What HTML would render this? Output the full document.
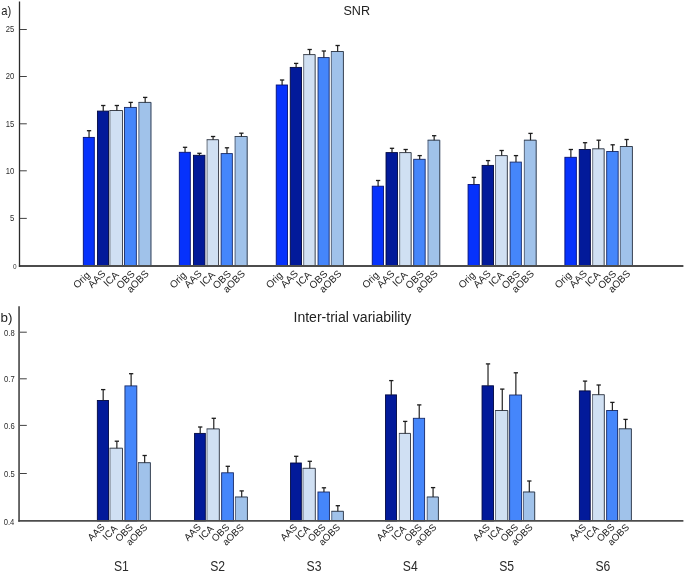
<!DOCTYPE html>
<html><head><meta charset="utf-8"><title>chart</title>
<style>
html,body{margin:0;padding:0;background:#fff;}
body{width:685px;height:573px;overflow:hidden;font-family:"Liberation Sans",sans-serif;}
svg{display:block;will-change:transform;font-family:"Liberation Sans",sans-serif;}
</style></head><body>
<svg width="685" height="573" viewBox="0 0 685 573">
<rect width="685" height="573" fill="#fff"/>
<rect x="83.31" y="137.40" width="11.00" height="128.60" fill="#0632fc" stroke="#041078" stroke-width="0.9"/><path d="M89.05 137.40V130.70" stroke="#222" stroke-width="1.2" fill="none"/><path d="M86.90 130.70H91.20" stroke="#1c1c1c" stroke-width="1.3" fill="none"/>
<text x="90.70" y="275.70" font-size="10" fill="#1c1c1c" text-anchor="end" transform="rotate(-45 90.70 275.70)">Orig</text>
<rect x="97.44" y="111.10" width="11.11" height="154.90" fill="#021a9a" stroke="#010842" stroke-width="0.9"/><path d="M103.24 111.10V105.50" stroke="#222" stroke-width="1.2" fill="none"/><path d="M101.09 105.50H105.39" stroke="#1c1c1c" stroke-width="1.3" fill="none"/>
<text x="106.20" y="274.30" font-size="10" fill="#1c1c1c" text-anchor="end" transform="rotate(-45 106.20 274.30)">AAS</text>
<rect x="109.53" y="110.10" width="13.43" height="155.90" fill="#d0e0f3"/><path d="M109.93 266.00V110.50" stroke="#666c75" stroke-width="0.9" fill="none"/><path d="M109.53 110.50H122.56V266.00" stroke="#2e323c" stroke-width="0.9" fill="none"/><path d="M116.85 110.50V105.50" stroke="#222" stroke-width="1.2" fill="none"/><path d="M114.70 105.50H119.00" stroke="#1c1c1c" stroke-width="1.3" fill="none"/>
<text x="119.40" y="275.50" font-size="10" fill="#1c1c1c" text-anchor="end" transform="rotate(-45 119.40 275.50)">ICA</text>
<rect x="124.53" y="107.40" width="11.81" height="158.60" fill="#4586fb" stroke="#172a68" stroke-width="0.9"/><path d="M130.69 107.40V102.40" stroke="#222" stroke-width="1.2" fill="none"/><path d="M128.54 102.40H132.84" stroke="#1c1c1c" stroke-width="1.3" fill="none"/>
<text x="135.50" y="274.50" font-size="10" fill="#1c1c1c" text-anchor="end" transform="rotate(-45 135.50 274.50)">OBS</text>
<rect x="138.50" y="102.00" width="12.85" height="164.00" fill="#a0c2ea"/><path d="M138.90 266.00V102.40" stroke="#566074" stroke-width="0.9" fill="none"/><path d="M138.50 102.40H150.94V266.00" stroke="#2e3442" stroke-width="0.9" fill="none"/><path d="M145.17 102.40V97.40" stroke="#222" stroke-width="1.2" fill="none"/><path d="M143.02 97.40H147.32" stroke="#1c1c1c" stroke-width="1.3" fill="none"/>
<text x="149.50" y="274.30" font-size="10" fill="#1c1c1c" text-anchor="end" transform="rotate(-45 149.50 274.30)">aOBS</text>
<rect x="179.31" y="152.30" width="11.00" height="113.70" fill="#0632fc" stroke="#041078" stroke-width="0.9"/><path d="M185.05 152.30V147.30" stroke="#222" stroke-width="1.2" fill="none"/><path d="M182.90 147.30H187.20" stroke="#1c1c1c" stroke-width="1.3" fill="none"/>
<text x="187.01" y="275.70" font-size="10" fill="#1c1c1c" text-anchor="end" transform="rotate(-45 187.01 275.70)">Orig</text>
<rect x="193.44" y="155.30" width="11.46" height="110.70" fill="#021a9a" stroke="#010842" stroke-width="0.9"/><path d="M199.42 155.30V153.30" stroke="#222" stroke-width="1.2" fill="none"/><path d="M197.27 153.30H201.57" stroke="#1c1c1c" stroke-width="1.3" fill="none"/>
<text x="202.51" y="274.30" font-size="10" fill="#1c1c1c" text-anchor="end" transform="rotate(-45 202.51 274.30)">AAS</text>
<rect x="206.70" y="139.30" width="12.26" height="126.70" fill="#d0e0f3"/><path d="M207.10 266.00V139.70" stroke="#666c75" stroke-width="0.9" fill="none"/><path d="M206.70 139.70H218.56V266.00" stroke="#2e323c" stroke-width="0.9" fill="none"/><path d="M213.08 139.70V136.50" stroke="#222" stroke-width="1.2" fill="none"/><path d="M210.93 136.50H215.23" stroke="#1c1c1c" stroke-width="1.3" fill="none"/>
<text x="215.71" y="275.50" font-size="10" fill="#1c1c1c" text-anchor="end" transform="rotate(-45 215.71 275.50)">ICA</text>
<rect x="221.12" y="153.60" width="11.23" height="112.40" fill="#4586fb" stroke="#172a68" stroke-width="0.9"/><path d="M226.98 153.60V147.80" stroke="#222" stroke-width="1.2" fill="none"/><path d="M224.83 147.80H229.13" stroke="#1c1c1c" stroke-width="1.3" fill="none"/>
<text x="231.81" y="274.50" font-size="10" fill="#1c1c1c" text-anchor="end" transform="rotate(-45 231.81 274.50)">OBS</text>
<rect x="234.73" y="136.10" width="12.85" height="129.90" fill="#a0c2ea"/><path d="M235.13 266.00V136.50" stroke="#566074" stroke-width="0.9" fill="none"/><path d="M234.73 136.50H247.18V266.00" stroke="#2e3442" stroke-width="0.9" fill="none"/><path d="M241.40 136.50V133.20" stroke="#222" stroke-width="1.2" fill="none"/><path d="M239.25 133.20H243.55" stroke="#1c1c1c" stroke-width="1.3" fill="none"/>
<text x="245.81" y="274.30" font-size="10" fill="#1c1c1c" text-anchor="end" transform="rotate(-45 245.81 274.30)">aOBS</text>
<rect x="276.24" y="85.00" width="11.23" height="181.00" fill="#0632fc" stroke="#041078" stroke-width="0.9"/><path d="M282.10 85.00V80.00" stroke="#222" stroke-width="1.2" fill="none"/><path d="M279.95 80.00H284.25" stroke="#1c1c1c" stroke-width="1.3" fill="none"/>
<text x="283.32" y="275.70" font-size="10" fill="#1c1c1c" text-anchor="end" transform="rotate(-45 283.32 275.70)">Orig</text>
<rect x="290.25" y="67.40" width="11.23" height="198.60" fill="#021a9a" stroke="#010842" stroke-width="0.9"/><path d="M296.12 67.40V63.40" stroke="#222" stroke-width="1.2" fill="none"/><path d="M293.97 63.40H298.27" stroke="#1c1c1c" stroke-width="1.3" fill="none"/>
<text x="298.82" y="274.30" font-size="10" fill="#1c1c1c" text-anchor="end" transform="rotate(-45 298.82 274.30)">AAS</text>
<rect x="303.28" y="54.20" width="12.26" height="211.80" fill="#d0e0f3"/><path d="M303.68 266.00V54.60" stroke="#666c75" stroke-width="0.9" fill="none"/><path d="M303.28 54.60H315.15V266.00" stroke="#2e323c" stroke-width="0.9" fill="none"/><path d="M309.67 54.60V49.50" stroke="#222" stroke-width="1.2" fill="none"/><path d="M307.52 49.50H311.82" stroke="#1c1c1c" stroke-width="1.3" fill="none"/>
<text x="312.02" y="275.50" font-size="10" fill="#1c1c1c" text-anchor="end" transform="rotate(-45 312.02 275.50)">ICA</text>
<rect x="318.05" y="57.60" width="11.11" height="208.40" fill="#4586fb" stroke="#172a68" stroke-width="0.9"/><path d="M323.86 57.60V51.00" stroke="#222" stroke-width="1.2" fill="none"/><path d="M321.71 51.00H326.01" stroke="#1c1c1c" stroke-width="1.3" fill="none"/>
<text x="328.12" y="274.50" font-size="10" fill="#1c1c1c" text-anchor="end" transform="rotate(-45 328.12 274.50)">OBS</text>
<rect x="330.96" y="51.10" width="12.85" height="214.90" fill="#a0c2ea"/><path d="M331.36 266.00V51.50" stroke="#566074" stroke-width="0.9" fill="none"/><path d="M330.96 51.50H343.41V266.00" stroke="#2e3442" stroke-width="0.9" fill="none"/><path d="M337.64 51.50V45.50" stroke="#222" stroke-width="1.2" fill="none"/><path d="M335.49 45.50H339.79" stroke="#1c1c1c" stroke-width="1.3" fill="none"/>
<text x="342.12" y="274.30" font-size="10" fill="#1c1c1c" text-anchor="end" transform="rotate(-45 342.12 274.30)">aOBS</text>
<rect x="372.24" y="186.20" width="11.23" height="79.80" fill="#0632fc" stroke="#041078" stroke-width="0.9"/><path d="M378.10 186.20V180.50" stroke="#222" stroke-width="1.2" fill="none"/><path d="M375.95 180.50H380.25" stroke="#1c1c1c" stroke-width="1.3" fill="none"/>
<text x="379.63" y="275.70" font-size="10" fill="#1c1c1c" text-anchor="end" transform="rotate(-45 379.63 275.70)">Orig</text>
<rect x="386.02" y="152.60" width="11.46" height="113.40" fill="#021a9a" stroke="#010842" stroke-width="0.9"/><path d="M392.00 152.60V148.30" stroke="#222" stroke-width="1.2" fill="none"/><path d="M389.85 148.30H394.15" stroke="#1c1c1c" stroke-width="1.3" fill="none"/>
<text x="395.13" y="274.30" font-size="10" fill="#1c1c1c" text-anchor="end" transform="rotate(-45 395.13 274.30)">AAS</text>
<rect x="399.28" y="152.20" width="12.26" height="113.80" fill="#d0e0f3"/><path d="M399.68 266.00V152.60" stroke="#666c75" stroke-width="0.9" fill="none"/><path d="M399.28 152.60H411.15V266.00" stroke="#2e323c" stroke-width="0.9" fill="none"/><path d="M405.67 152.60V149.50" stroke="#222" stroke-width="1.2" fill="none"/><path d="M403.52 149.50H407.82" stroke="#1c1c1c" stroke-width="1.3" fill="none"/>
<text x="408.33" y="275.50" font-size="10" fill="#1c1c1c" text-anchor="end" transform="rotate(-45 408.33 275.50)">ICA</text>
<rect x="413.70" y="159.30" width="11.46" height="106.70" fill="#4586fb" stroke="#172a68" stroke-width="0.9"/><path d="M419.68 159.30V155.60" stroke="#222" stroke-width="1.2" fill="none"/><path d="M417.53 155.60H421.83" stroke="#1c1c1c" stroke-width="1.3" fill="none"/>
<text x="424.43" y="274.50" font-size="10" fill="#1c1c1c" text-anchor="end" transform="rotate(-45 424.43 274.50)">OBS</text>
<rect x="427.66" y="139.80" width="12.50" height="126.20" fill="#a0c2ea"/><path d="M428.06 266.00V140.20" stroke="#566074" stroke-width="0.9" fill="none"/><path d="M427.66 140.20H439.76V266.00" stroke="#2e3442" stroke-width="0.9" fill="none"/><path d="M434.16 140.20V135.70" stroke="#222" stroke-width="1.2" fill="none"/><path d="M432.01 135.70H436.31" stroke="#1c1c1c" stroke-width="1.3" fill="none"/>
<text x="438.43" y="274.30" font-size="10" fill="#1c1c1c" text-anchor="end" transform="rotate(-45 438.43 274.30)">aOBS</text>
<rect x="468.07" y="184.50" width="11.23" height="81.50" fill="#0632fc" stroke="#041078" stroke-width="0.9"/><path d="M473.94 184.50V177.40" stroke="#222" stroke-width="1.2" fill="none"/><path d="M471.79 177.40H476.09" stroke="#1c1c1c" stroke-width="1.3" fill="none"/>
<text x="475.94" y="275.70" font-size="10" fill="#1c1c1c" text-anchor="end" transform="rotate(-45 475.94 275.70)">Orig</text>
<rect x="482.09" y="165.40" width="11.46" height="100.60" fill="#021a9a" stroke="#010842" stroke-width="0.9"/><path d="M488.07 165.40V160.60" stroke="#222" stroke-width="1.2" fill="none"/><path d="M485.92 160.60H490.22" stroke="#1c1c1c" stroke-width="1.3" fill="none"/>
<text x="491.44" y="274.30" font-size="10" fill="#1c1c1c" text-anchor="end" transform="rotate(-45 491.44 274.30)">AAS</text>
<rect x="495.12" y="155.20" width="12.61" height="110.80" fill="#d0e0f3"/><path d="M495.52 266.00V155.60" stroke="#666c75" stroke-width="0.9" fill="none"/><path d="M495.12 155.60H507.33V266.00" stroke="#2e323c" stroke-width="0.9" fill="none"/><path d="M501.67 155.60V150.50" stroke="#222" stroke-width="1.2" fill="none"/><path d="M499.52 150.50H503.82" stroke="#1c1c1c" stroke-width="1.3" fill="none"/>
<text x="504.64" y="275.50" font-size="10" fill="#1c1c1c" text-anchor="end" transform="rotate(-45 504.64 275.50)">ICA</text>
<rect x="510.12" y="162.10" width="11.23" height="103.90" fill="#4586fb" stroke="#172a68" stroke-width="0.9"/><path d="M515.98 162.10V155.60" stroke="#222" stroke-width="1.2" fill="none"/><path d="M513.83 155.60H518.13" stroke="#1c1c1c" stroke-width="1.3" fill="none"/>
<text x="520.74" y="274.50" font-size="10" fill="#1c1c1c" text-anchor="end" transform="rotate(-45 520.74 274.50)">OBS</text>
<rect x="523.96" y="139.80" width="12.61" height="126.20" fill="#a0c2ea"/><path d="M524.36 266.00V140.20" stroke="#566074" stroke-width="0.9" fill="none"/><path d="M523.96 140.20H536.18V266.00" stroke="#2e3442" stroke-width="0.9" fill="none"/><path d="M530.52 140.20V133.40" stroke="#222" stroke-width="1.2" fill="none"/><path d="M528.37 133.40H532.67" stroke="#1c1c1c" stroke-width="1.3" fill="none"/>
<text x="534.74" y="274.30" font-size="10" fill="#1c1c1c" text-anchor="end" transform="rotate(-45 534.74 274.30)">aOBS</text>
<rect x="564.89" y="157.30" width="11.46" height="108.70" fill="#0632fc" stroke="#041078" stroke-width="0.9"/><path d="M570.87 157.30V149.50" stroke="#222" stroke-width="1.2" fill="none"/><path d="M568.72 149.50H573.02" stroke="#1c1c1c" stroke-width="1.3" fill="none"/>
<text x="572.25" y="275.70" font-size="10" fill="#1c1c1c" text-anchor="end" transform="rotate(-45 572.25 275.70)">Orig</text>
<rect x="579.25" y="149.50" width="11.11" height="116.50" fill="#021a9a" stroke="#010842" stroke-width="0.9"/><path d="M585.06 149.50V142.70" stroke="#222" stroke-width="1.2" fill="none"/><path d="M582.91 142.70H587.21" stroke="#1c1c1c" stroke-width="1.3" fill="none"/>
<text x="587.75" y="274.30" font-size="10" fill="#1c1c1c" text-anchor="end" transform="rotate(-45 587.75 274.30)">AAS</text>
<rect x="592.28" y="148.40" width="12.26" height="117.60" fill="#d0e0f3"/><path d="M592.68 266.00V148.80" stroke="#666c75" stroke-width="0.9" fill="none"/><path d="M592.28 148.80H604.15V266.00" stroke="#2e323c" stroke-width="0.9" fill="none"/><path d="M598.67 148.80V140.20" stroke="#222" stroke-width="1.2" fill="none"/><path d="M596.52 140.20H600.82" stroke="#1c1c1c" stroke-width="1.3" fill="none"/>
<text x="600.95" y="275.50" font-size="10" fill="#1c1c1c" text-anchor="end" transform="rotate(-45 600.95 275.50)">ICA</text>
<rect x="606.70" y="151.50" width="11.46" height="114.50" fill="#4586fb" stroke="#172a68" stroke-width="0.9"/><path d="M612.68 151.50V144.80" stroke="#222" stroke-width="1.2" fill="none"/><path d="M610.53 144.80H614.83" stroke="#1c1c1c" stroke-width="1.3" fill="none"/>
<text x="617.05" y="274.50" font-size="10" fill="#1c1c1c" text-anchor="end" transform="rotate(-45 617.05 274.50)">OBS</text>
<rect x="619.96" y="146.10" width="12.85" height="119.90" fill="#a0c2ea"/><path d="M620.36 266.00V146.50" stroke="#566074" stroke-width="0.9" fill="none"/><path d="M619.96 146.50H632.41V266.00" stroke="#2e3442" stroke-width="0.9" fill="none"/><path d="M626.64 146.50V139.50" stroke="#222" stroke-width="1.2" fill="none"/><path d="M624.49 139.50H628.79" stroke="#1c1c1c" stroke-width="1.3" fill="none"/>
<text x="631.05" y="274.30" font-size="10" fill="#1c1c1c" text-anchor="end" transform="rotate(-45 631.05 274.30)">aOBS</text>
<rect x="97.35" y="400.50" width="11.16" height="120.40" fill="#021a9a" stroke="#010842" stroke-width="0.9"/><path d="M103.18 400.50V389.60" stroke="#222" stroke-width="1.2" fill="none"/><path d="M101.03 389.60H105.33" stroke="#1c1c1c" stroke-width="1.3" fill="none"/>
<text x="105.30" y="527.80" font-size="9.7" fill="#1c1c1c" text-anchor="end" transform="rotate(-45 105.30 527.80)">AAS</text>
<rect x="109.62" y="447.80" width="13.28" height="73.10" fill="#d0e0f3"/><path d="M110.02 520.90V448.20" stroke="#666c75" stroke-width="0.9" fill="none"/><path d="M109.62 448.20H122.50V520.90" stroke="#2e323c" stroke-width="0.9" fill="none"/><path d="M116.86 448.20V441.20" stroke="#222" stroke-width="1.2" fill="none"/><path d="M114.71 441.20H119.01" stroke="#1c1c1c" stroke-width="1.3" fill="none"/>
<text x="118.00" y="529.30" font-size="9.7" fill="#1c1c1c" text-anchor="end" transform="rotate(-45 118.00 529.30)">ICA</text>
<rect x="124.94" y="385.90" width="11.87" height="135.00" fill="#4586fb" stroke="#172a68" stroke-width="0.9"/><path d="M131.12 385.90V373.70" stroke="#222" stroke-width="1.2" fill="none"/><path d="M128.97 373.70H133.27" stroke="#1c1c1c" stroke-width="1.3" fill="none"/>
<text x="133.70" y="527.80" font-size="9.7" fill="#1c1c1c" text-anchor="end" transform="rotate(-45 133.70 527.80)">OBS</text>
<rect x="138.03" y="462.30" width="12.77" height="58.60" fill="#a0c2ea"/><path d="M138.43 520.90V462.70" stroke="#566074" stroke-width="0.9" fill="none"/><path d="M138.03 462.70H150.40V520.90" stroke="#2e3442" stroke-width="0.9" fill="none"/><path d="M144.66 462.70V455.50" stroke="#222" stroke-width="1.2" fill="none"/><path d="M142.51 455.50H146.81" stroke="#1c1c1c" stroke-width="1.3" fill="none"/>
<text x="148.20" y="527.80" font-size="9.7" fill="#1c1c1c" text-anchor="end" transform="rotate(-45 148.20 527.80)">aOBS</text>
<rect x="194.57" y="433.40" width="10.75" height="87.50" fill="#021a9a" stroke="#010842" stroke-width="0.9"/><path d="M200.20 433.40V427.00" stroke="#222" stroke-width="1.2" fill="none"/><path d="M198.05 427.00H202.35" stroke="#1c1c1c" stroke-width="1.3" fill="none"/>
<text x="201.61" y="527.80" font-size="9.7" fill="#1c1c1c" text-anchor="end" transform="rotate(-45 201.61 527.80)">AAS</text>
<rect x="206.64" y="428.50" width="13.08" height="92.40" fill="#d0e0f3"/><path d="M207.04 520.90V428.90" stroke="#666c75" stroke-width="0.9" fill="none"/><path d="M206.64 428.90H219.32V520.90" stroke="#2e323c" stroke-width="0.9" fill="none"/><path d="M213.78 428.90V418.30" stroke="#222" stroke-width="1.2" fill="none"/><path d="M211.63 418.30H215.93" stroke="#1c1c1c" stroke-width="1.3" fill="none"/>
<text x="214.31" y="529.30" font-size="9.7" fill="#1c1c1c" text-anchor="end" transform="rotate(-45 214.31 529.30)">ICA</text>
<rect x="221.65" y="472.80" width="11.77" height="48.10" fill="#4586fb" stroke="#172a68" stroke-width="0.9"/><path d="M227.79 472.80V466.30" stroke="#222" stroke-width="1.2" fill="none"/><path d="M225.64 466.30H229.94" stroke="#1c1c1c" stroke-width="1.3" fill="none"/>
<text x="230.01" y="527.80" font-size="9.7" fill="#1c1c1c" text-anchor="end" transform="rotate(-45 230.01 527.80)">OBS</text>
<rect x="235.05" y="496.60" width="12.77" height="24.30" fill="#a0c2ea"/><path d="M235.45 520.90V497.00" stroke="#566074" stroke-width="0.9" fill="none"/><path d="M235.05 497.00H247.42V520.90" stroke="#2e3442" stroke-width="0.9" fill="none"/><path d="M241.69 497.00V490.90" stroke="#222" stroke-width="1.2" fill="none"/><path d="M239.54 490.90H243.84" stroke="#1c1c1c" stroke-width="1.3" fill="none"/>
<text x="244.51" y="527.80" font-size="9.7" fill="#1c1c1c" text-anchor="end" transform="rotate(-45 244.51 527.80)">aOBS</text>
<rect x="290.57" y="463.00" width="10.75" height="57.90" fill="#021a9a" stroke="#010842" stroke-width="0.9"/><path d="M296.20 463.00V456.30" stroke="#222" stroke-width="1.2" fill="none"/><path d="M294.05 456.30H298.35" stroke="#1c1c1c" stroke-width="1.3" fill="none"/>
<text x="297.92" y="527.80" font-size="9.7" fill="#1c1c1c" text-anchor="end" transform="rotate(-45 297.92 527.80)">AAS</text>
<rect x="302.64" y="467.90" width="13.08" height="53.00" fill="#d0e0f3"/><path d="M303.04 520.90V468.30" stroke="#666c75" stroke-width="0.9" fill="none"/><path d="M302.64 468.30H315.32V520.90" stroke="#2e323c" stroke-width="0.9" fill="none"/><path d="M309.78 468.30V461.30" stroke="#222" stroke-width="1.2" fill="none"/><path d="M307.63 461.30H311.93" stroke="#1c1c1c" stroke-width="1.3" fill="none"/>
<text x="310.62" y="529.30" font-size="9.7" fill="#1c1c1c" text-anchor="end" transform="rotate(-45 310.62 529.30)">ICA</text>
<rect x="317.96" y="492.00" width="11.46" height="28.90" fill="#4586fb" stroke="#172a68" stroke-width="0.9"/><path d="M323.94 492.00V487.80" stroke="#222" stroke-width="1.2" fill="none"/><path d="M321.79 487.80H326.09" stroke="#1c1c1c" stroke-width="1.3" fill="none"/>
<text x="326.32" y="527.80" font-size="9.7" fill="#1c1c1c" text-anchor="end" transform="rotate(-45 326.32 527.80)">OBS</text>
<rect x="331.36" y="510.90" width="12.47" height="10.00" fill="#a0c2ea"/><path d="M331.76 520.90V511.30" stroke="#566074" stroke-width="0.9" fill="none"/><path d="M331.36 511.30H343.42V520.90" stroke="#2e3442" stroke-width="0.9" fill="none"/><path d="M337.84 511.30V505.70" stroke="#222" stroke-width="1.2" fill="none"/><path d="M335.69 505.70H339.99" stroke="#1c1c1c" stroke-width="1.3" fill="none"/>
<text x="340.82" y="527.80" font-size="9.7" fill="#1c1c1c" text-anchor="end" transform="rotate(-45 340.82 527.80)">aOBS</text>
<rect x="385.55" y="394.90" width="10.95" height="126.00" fill="#021a9a" stroke="#010842" stroke-width="0.9"/><path d="M391.28 394.90V380.60" stroke="#222" stroke-width="1.2" fill="none"/><path d="M389.13 380.60H393.43" stroke="#1c1c1c" stroke-width="1.3" fill="none"/>
<text x="394.23" y="527.80" font-size="9.7" fill="#1c1c1c" text-anchor="end" transform="rotate(-45 394.23 527.80)">AAS</text>
<rect x="398.95" y="433.00" width="11.96" height="87.90" fill="#d0e0f3"/><path d="M399.35 520.90V433.40" stroke="#666c75" stroke-width="0.9" fill="none"/><path d="M398.95 433.40H410.50V520.90" stroke="#2e323c" stroke-width="0.9" fill="none"/><path d="M405.18 433.40V421.40" stroke="#222" stroke-width="1.2" fill="none"/><path d="M403.03 421.40H407.33" stroke="#1c1c1c" stroke-width="1.3" fill="none"/>
<text x="406.93" y="529.30" font-size="9.7" fill="#1c1c1c" text-anchor="end" transform="rotate(-45 406.93 529.30)">ICA</text>
<rect x="413.35" y="418.30" width="11.26" height="102.60" fill="#4586fb" stroke="#172a68" stroke-width="0.9"/><path d="M419.23 418.30V404.90" stroke="#222" stroke-width="1.2" fill="none"/><path d="M417.08 404.90H421.38" stroke="#1c1c1c" stroke-width="1.3" fill="none"/>
<text x="422.63" y="527.80" font-size="9.7" fill="#1c1c1c" text-anchor="end" transform="rotate(-45 422.63 527.80)">OBS</text>
<rect x="426.85" y="496.60" width="11.96" height="24.30" fill="#a0c2ea"/><path d="M427.25 520.90V497.00" stroke="#566074" stroke-width="0.9" fill="none"/><path d="M426.85 497.00H438.40V520.90" stroke="#2e3442" stroke-width="0.9" fill="none"/><path d="M433.07 497.00V487.60" stroke="#222" stroke-width="1.2" fill="none"/><path d="M430.92 487.60H435.22" stroke="#1c1c1c" stroke-width="1.3" fill="none"/>
<text x="437.13" y="527.80" font-size="9.7" fill="#1c1c1c" text-anchor="end" transform="rotate(-45 437.13 527.80)">aOBS</text>
<rect x="482.04" y="385.80" width="11.46" height="135.10" fill="#021a9a" stroke="#010842" stroke-width="0.9"/><path d="M488.02 385.80V363.90" stroke="#222" stroke-width="1.2" fill="none"/><path d="M485.87 363.90H490.17" stroke="#1c1c1c" stroke-width="1.3" fill="none"/>
<text x="490.54" y="527.80" font-size="9.7" fill="#1c1c1c" text-anchor="end" transform="rotate(-45 490.54 527.80)">AAS</text>
<rect x="495.13" y="410.10" width="13.08" height="110.80" fill="#d0e0f3"/><path d="M495.53 520.90V410.50" stroke="#666c75" stroke-width="0.9" fill="none"/><path d="M495.13 410.50H507.81V520.90" stroke="#2e323c" stroke-width="0.9" fill="none"/><path d="M502.27 410.50V389.10" stroke="#222" stroke-width="1.2" fill="none"/><path d="M500.12 389.10H504.42" stroke="#1c1c1c" stroke-width="1.3" fill="none"/>
<text x="503.24" y="529.30" font-size="9.7" fill="#1c1c1c" text-anchor="end" transform="rotate(-45 503.24 529.30)">ICA</text>
<rect x="509.63" y="395.00" width="11.97" height="125.90" fill="#4586fb" stroke="#172a68" stroke-width="0.9"/><path d="M515.87 395.00V372.80" stroke="#222" stroke-width="1.2" fill="none"/><path d="M513.72 372.80H518.02" stroke="#1c1c1c" stroke-width="1.3" fill="none"/>
<text x="518.94" y="527.80" font-size="9.7" fill="#1c1c1c" text-anchor="end" transform="rotate(-45 518.94 527.80)">OBS</text>
<rect x="523.03" y="491.60" width="12.06" height="29.30" fill="#a0c2ea"/><path d="M523.43 520.90V492.00" stroke="#566074" stroke-width="0.9" fill="none"/><path d="M523.03 492.00H534.69V520.90" stroke="#2e3442" stroke-width="0.9" fill="none"/><path d="M529.31 492.00V481.00" stroke="#222" stroke-width="1.2" fill="none"/><path d="M527.16 481.00H531.46" stroke="#1c1c1c" stroke-width="1.3" fill="none"/>
<text x="533.44" y="527.80" font-size="9.7" fill="#1c1c1c" text-anchor="end" transform="rotate(-45 533.44 527.80)">aOBS</text>
<rect x="579.37" y="390.90" width="10.85" height="130.00" fill="#021a9a" stroke="#010842" stroke-width="0.9"/><path d="M585.05 390.90V381.10" stroke="#222" stroke-width="1.2" fill="none"/><path d="M582.90 381.10H587.20" stroke="#1c1c1c" stroke-width="1.3" fill="none"/>
<text x="586.85" y="527.80" font-size="9.7" fill="#1c1c1c" text-anchor="end" transform="rotate(-45 586.85 527.80)">AAS</text>
<rect x="592.15" y="394.30" width="12.57" height="126.60" fill="#d0e0f3"/><path d="M592.55 520.90V394.70" stroke="#666c75" stroke-width="0.9" fill="none"/><path d="M592.15 394.70H604.32V520.90" stroke="#2e323c" stroke-width="0.9" fill="none"/><path d="M598.69 394.70V385.00" stroke="#222" stroke-width="1.2" fill="none"/><path d="M596.54 385.00H600.84" stroke="#1c1c1c" stroke-width="1.3" fill="none"/>
<text x="599.55" y="529.30" font-size="9.7" fill="#1c1c1c" text-anchor="end" transform="rotate(-45 599.55 529.30)">ICA</text>
<rect x="606.65" y="410.50" width="10.95" height="110.40" fill="#4586fb" stroke="#172a68" stroke-width="0.9"/><path d="M612.38 410.50V402.40" stroke="#222" stroke-width="1.2" fill="none"/><path d="M610.23 402.40H614.53" stroke="#1c1c1c" stroke-width="1.3" fill="none"/>
<text x="615.25" y="527.80" font-size="9.7" fill="#1c1c1c" text-anchor="end" transform="rotate(-45 615.25 527.80)">OBS</text>
<rect x="618.82" y="428.40" width="12.98" height="92.50" fill="#a0c2ea"/><path d="M619.22 520.90V428.80" stroke="#566074" stroke-width="0.9" fill="none"/><path d="M618.82 428.80H631.40V520.90" stroke="#2e3442" stroke-width="0.9" fill="none"/><path d="M625.56 428.80V419.40" stroke="#222" stroke-width="1.2" fill="none"/><path d="M623.41 419.40H627.71" stroke="#1c1c1c" stroke-width="1.3" fill="none"/>
<text x="629.75" y="527.80" font-size="9.7" fill="#1c1c1c" text-anchor="end" transform="rotate(-45 629.75 527.80)">aOBS</text>
<path d="M18.9 266.0H683.4" stroke="#4c4c4c" stroke-width="1.8" fill="none"/>
<path d="M19.5 1.5V266.9" stroke="#2b2b2b" stroke-width="1.3" fill="none"/>
<path d="M18.3 520.9H683.4" stroke="#4c4c4c" stroke-width="1.8" fill="none"/>
<path d="M19.05 306.3V521.8" stroke="#454545" stroke-width="1.6" fill="none"/>
<path d="M20 29.5H26.8" stroke="#2b2b2b" stroke-width="0.9"/>
<text x="5.699999999999999" y="32.2" font-size="8.8" fill="#2a2a2a" textLength="8.5" lengthAdjust="spacingAndGlyphs">25</text>
<path d="M20 76.5H26.8" stroke="#2b2b2b" stroke-width="0.9"/>
<text x="5.699999999999999" y="79.2" font-size="8.8" fill="#2a2a2a" textLength="8.5" lengthAdjust="spacingAndGlyphs">20</text>
<path d="M20 123.8H26.8" stroke="#2b2b2b" stroke-width="0.9"/>
<text x="5.699999999999999" y="126.5" font-size="8.8" fill="#2a2a2a" textLength="8.5" lengthAdjust="spacingAndGlyphs">15</text>
<path d="M20 170.8H26.8" stroke="#2b2b2b" stroke-width="0.9"/>
<text x="5.699999999999999" y="173.5" font-size="8.8" fill="#2a2a2a" textLength="8.5" lengthAdjust="spacingAndGlyphs">10</text>
<path d="M20 218.4H26.8" stroke="#2b2b2b" stroke-width="0.9"/>
<text x="9.899999999999999" y="221.1" font-size="8.8" fill="#2a2a2a" textLength="4.3" lengthAdjust="spacingAndGlyphs">5</text>
<text x="12.9" y="268.8" font-size="7.4" fill="#333" textLength="3.6" lengthAdjust="spacingAndGlyphs">0</text>
<path d="M20 332.2H26.8" stroke="#2b2b2b" stroke-width="0.9"/>
<text x="4.1" y="335.7" font-size="9" fill="#2a2a2a" textLength="10.6" lengthAdjust="spacingAndGlyphs">0.8</text>
<path d="M20 378.8H26.8" stroke="#2b2b2b" stroke-width="0.9"/>
<text x="4.1" y="382.3" font-size="9" fill="#2a2a2a" textLength="10.6" lengthAdjust="spacingAndGlyphs">0.7</text>
<path d="M20 425.4H26.8" stroke="#2b2b2b" stroke-width="0.9"/>
<text x="4.1" y="428.9" font-size="9" fill="#2a2a2a" textLength="10.6" lengthAdjust="spacingAndGlyphs">0.6</text>
<path d="M20 473.5H26.8" stroke="#2b2b2b" stroke-width="0.9"/>
<text x="4.1" y="477.0" font-size="9" fill="#2a2a2a" textLength="10.6" lengthAdjust="spacingAndGlyphs">0.5</text>
<text x="3.7" y="524.6999999999999" font-size="9" fill="#2a2a2a" textLength="10.6" lengthAdjust="spacingAndGlyphs">0.4</text>
<text x="343.4" y="14.7" font-size="13.4" fill="#222" textLength="26.6" lengthAdjust="spacingAndGlyphs">SNR</text>
<text x="293.5" y="321.8" font-size="13.8" fill="#222" textLength="117.9" lengthAdjust="spacingAndGlyphs">Inter-trial variability</text>
<text x="1.3" y="14.6" font-size="12.8" fill="#222" textLength="10" lengthAdjust="spacingAndGlyphs">a)</text>
<text x="0.5" y="321.7" font-size="13.2" fill="#222" textLength="11.9" lengthAdjust="spacingAndGlyphs">b)</text>
<text x="113.90" y="571.3" font-size="14.6" fill="#2a2a2a" textLength="14.9" lengthAdjust="spacingAndGlyphs">S1</text>
<text x="210.21" y="571.3" font-size="14.6" fill="#2a2a2a" textLength="14.9" lengthAdjust="spacingAndGlyphs">S2</text>
<text x="306.52" y="571.3" font-size="14.6" fill="#2a2a2a" textLength="14.9" lengthAdjust="spacingAndGlyphs">S3</text>
<text x="402.83" y="571.3" font-size="14.6" fill="#2a2a2a" textLength="14.9" lengthAdjust="spacingAndGlyphs">S4</text>
<text x="499.14" y="571.3" font-size="14.6" fill="#2a2a2a" textLength="14.9" lengthAdjust="spacingAndGlyphs">S5</text>
<text x="595.45" y="571.3" font-size="14.6" fill="#2a2a2a" textLength="14.9" lengthAdjust="spacingAndGlyphs">S6</text>
</svg></body></html>
